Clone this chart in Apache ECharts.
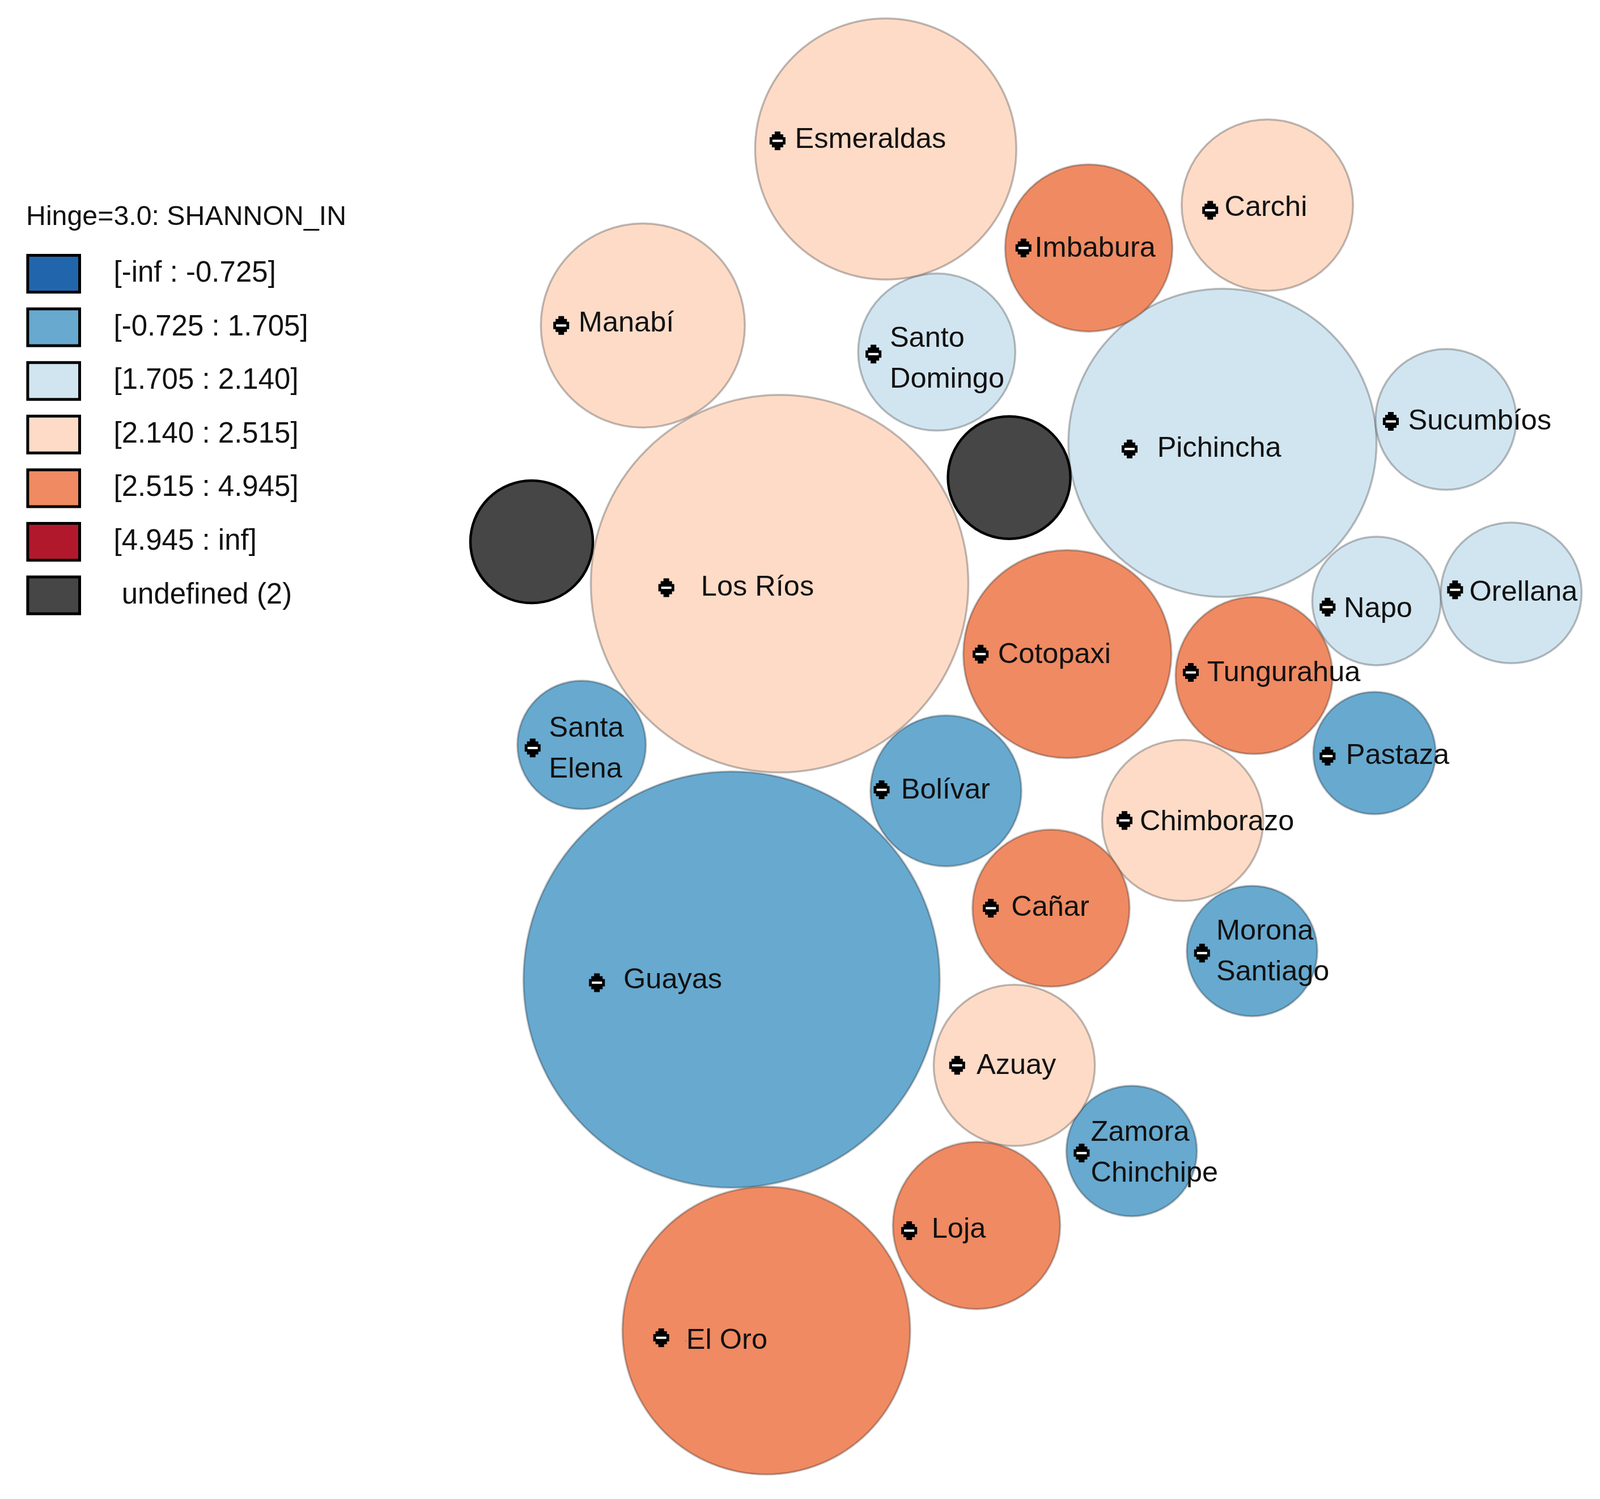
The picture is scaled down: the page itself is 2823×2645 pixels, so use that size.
<!DOCTYPE html>
<html>
<head>
<meta charset="utf-8">
<style>
html, body { margin: 0; padding: 0; background: #fff; }
#chart-cartogram { width: 2823px; height: 2645px; }
</style>
<script src="https://cdn.jsdelivr.net/npm/echarts@6/dist/echarts.min.js"></script>
</head>
<body>
<div id="chart-cartogram"></div>
<script>
// cartogram units (1 unit = 1.8 px)
var legendTitle = "Hinge=3.0: SHANNON_IN";
var classLabels = ["[-inf : -0.725]", "[-0.725 : 1.705]", "[1.705 : 2.140]", "[2.140 : 2.515]", "[2.515 : 4.945]", "[4.945 : inf]", " undefined (2)"];
var classColors = ["#2166ac", "#67a9cf", "#d1e5f0", "#fddbc7", "#ef8a62", "#b2182b", "#464646"];

var provinces = ["Esmeraldas", "Carchi", "Imbabura", "Manabí", "Santo\nDomingo", "Pichincha", "Sucumbíos", "Los Ríos", "Napo", "Orellana", "Cotopaxi", "Tungurahua", "Pastaza", "Santa\nElena", "Bolívar", "Chimborazo", "Guayas", "Cañar", "Morona\nSantiago", "Azuay", "Zamora\nChinchipe", "Loja", "El Oro"];
var provinceClass = [3, 3, 4, 3, 2, 2, 2, 3, 2, 2, 4, 4, 1, 1, 1, 3, 1, 4, 1, 3, 1, 4, 4];
var bubbleX = [868, 1242, 1067, 630, 918, 1198, 1417, 764, 1349, 1481, 1046, 1229, 1347, 570, 927, 1159, 717, 1030, 1227, 994, 1109, 957, 751];
var bubbleY = [146, 201, 243, 319, 345, 434, 411, 572, 589, 581, 641, 662, 738, 730, 775, 804, 960, 890, 932, 1044, 1128, 1201, 1304];
var bubbleR = [128, 84, 82, 100, 77, 151, 69, 185, 63, 69, 102, 77, 60, 63, 74, 79, 204, 77, 64, 79, 64, 82, 141];
var markerX = [762, 1186, 1003, 550, 856, 1107, 1363, 653, 1301, 1426, 961, 1167, 1301, 522, 864, 1102, 585, 971, 1178, 938, 1060, 891, 648];
var markerY = [138, 206, 243, 319, 347, 440, 413, 576, 595, 578, 641, 659, 741, 733, 774, 804, 963, 890, 934, 1044, 1130, 1206, 1311];
var labelX = [779, 1200, 1014, 567, 872, 1134, 1380, 687, 1317, 1440, 978, 1183, 1319, 538, 883, 1117, 611, 991, 1192, 957, 1069, 913, 672];
var labelY = [137, 204, 244, 317, 352, 440, 413, 576, 597, 581, 642, 660, 741, 734, 775, 806, 961, 890, 933, 1045, 1130, 1205, 1314];

// the two provinces without a value
var missingX = [989, 521];
var missingY = [468, 531];
var missingR = [60, 60];

var unit = 2823 / 1568;
var fontName = "Liberation Sans";
var markerPath = "path://M9 0H19V5H24V10H28V23H24V28H19V33H9V28H4V23H0V10H4V5H9Z";

var chart = echarts.init(document.getElementById("chart-cartogram"), null, {renderer: "canvas"});

function bubbleSize(v) {
    return v[2] * 2 * unit;
}

function classSeries(i) {
    var data = [];
    provinces.forEach(function (name, k) {
        if (provinceClass[k] === i) {
            data.push([bubbleX[k], bubbleY[k], bubbleR[k]]);
        }
    });
    if (i === 6) {
        missingX.forEach(function (x, k) {
            data.push([x, missingY[k], missingR[k]]);
        });
    }
    return {
        name: classLabels[i],
        type: "scatter",
        symbol: "circle",
        symbolSize: bubbleSize,
        z: 2 + (i === 6 ? 1 : 0),
        itemStyle: {
            color: classColors[i],
            opacity: 1,
            borderColor: i === 6 ? "#000" : "rgba(0,0,0,0.25)",
            borderWidth: i === 6 ? 4.5 : 3.5
        },
        data: data
    };
}

var series = classLabels.map(function (label, i) {
    return classSeries(i);
});

//centre markers
var markerData = markerX.map(function (x, k) {
    return [x, markerY[k]];
});
series.push({
    type: "scatter",
    symbol: markerPath,
    symbolSize: [28, 33],
    z: 5,
    itemStyle: {color: "#000", opacity: 1},
    data: markerData
});
series.push({
    type: "scatter",
    symbol: "rect",
    symbolSize: [18, 4],
    z: 6,
    itemStyle: {color: "#fff", opacity: 1},
    data: markerData
});

//province names
series.push({
    type: "scatter",
    symbolSize: 0,
    z: 7,
    itemStyle: {opacity: 1},
    label: {
        show: true,
        position: "right",
        distance: 0,
        color: "#111",
        fontFamily: fontName,
        fontSize: 50.5,
        lineHeight: 72,
        formatter: function (p) {
            return provinces[p.dataIndex];
        }
    },
    data: labelX.map(function (x, k) {
        return [x, labelY[k]];
    })
});

chart.setOption({
    animation: false,
    backgroundColor: "#fff",
    tooltip: {show: false},
    title: {
        text: legendTitle,
        left: 46,
        top: 360,
        padding: 0,
        textStyle: {fontFamily: fontName, fontSize: 48.3, fontWeight: "normal", color: "#111"}
    },
    legend: {
        orient: "vertical",
        left: 46.4,
        top: 448,
        padding: 0,
        selectedMode: false,
        icon: "rect",
        itemWidth: 91.6,
        itemHeight: 65,
        itemGap: 24.6,
        itemStyle: {borderColor: "#000", borderWidth: 5},
        textStyle: {fontFamily: fontName, fontSize: 51, color: "#111", padding: [0, 0, 10, 55]},
        data: classLabels
    },
    grid: {left: 0, right: 0, top: 0, bottom: 0},
    xAxis: {type: "value", min: 0, max: 1568, show: false},
    yAxis: {type: "value", min: 0, max: 1469, inverse: true, show: false},
    series: series
});
</script>
</body>
</html>
